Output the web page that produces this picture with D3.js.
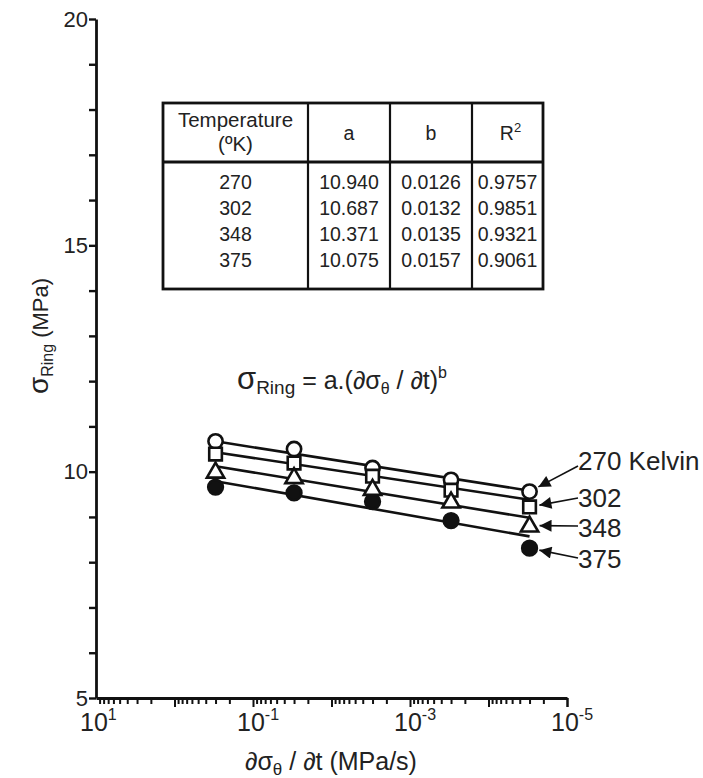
<!DOCTYPE html>
<html lang="en">
<head>
	<meta charset="utf-8">
	<title>Ring stress vs stress rate</title>
	<script src="https://d3js.org/d3.v7.min.js"></script>
	<style>
		body { margin: 0; background: #fff; }
		svg text { font-family: "Liberation Sans", Arial, sans-serif; fill: #222; }
	</style>
</head>
<body>
	<div id="container"></div>

	<script>
		// stress rates (MPa/s) where the tests were done
		var rates = [0.3, 0.03, 0.003, 0.0003, 0.00003];
		var temps = ["270", "302", "348", "375"];

		// ring stress (MPa), one array per temperature
		var s270 = [10.67, 10.50, 10.08, 9.82, 9.56];
		var s302 = [10.39, 10.19, 9.90, 9.59, 9.22];
		var s348 = [10.00, 9.88, 9.62, 9.34, 8.81];
		var s375 = [9.66, 9.53, 9.34, 8.92, 8.31];

		// fitted lines, value at first and last rate
		var fitStart = [10.67, 10.43, 10.12, 9.79];
		var fitEnd = [9.58, 9.38, 8.98, 8.57];

		// table of fit parameters
		var tabA = ["10.940", "10.687", "10.371", "10.075"];
		var tabB = ["0.0126", "0.0132", "0.0135", "0.0157"];
		var tabR2 = ["0.9757", "0.9851", "0.9321", "0.9061"];

		var yTicks = [5, 10, 15, 20];
		var xLabelExp = [1, -1, -3, -5];

		var width = 703,
			height = 778,
			svg = d3.select("#container")
				.append("svg")
				.attr("width", width)
				.attr("height", height);

		var x = d3.scaleLog()
			.domain([10, 1e-5])
			.range([96, 567]);

		var y = d3.scaleLinear()
			.domain([5, 20])
			.range([698, 19]);

		// y axis, a tick every unit, labels every 5
		var yAxis = svg.append("g")
			.attr("transform", "translate(" + x(10) + ",0)")
			.call(d3.axisLeft(y)
				.tickValues(d3.range(5, 21))
				.tickSize(7)
				.tickSizeOuter(0)
				.tickFormat(function(d) { return yTicks.indexOf(d) >= 0 ? d : ""; }));
		yAxis.select(".domain").attr("stroke", "#111").attr("stroke-width", 2.8);
		yAxis.selectAll(".tick line").attr("stroke", "#111").attr("stroke-width", 2.4);
		yAxis.selectAll(".tick text")
			.attr("font-size", 22)
			.attr("x", -8)
			.attr("fill", "#222");

		// x axis (log, reversed), minor ticks at 2..9 of every decade
		var xTickVals = [];
		for (var e = 1; e > -5; e--) {
			for (var m = 1; m < 10; m++) {
				xTickVals.push(m * Math.pow(10, e - 1));
			}
		}
		xTickVals.push(1e-5);
		xTickVals = xTickVals.filter(function(v) { return v <= 10 && v >= 1e-5; });

		var xAxis = svg.append("g")
			.attr("transform", "translate(0," + y(5) + ")")
			.call(d3.axisBottom(x)
				.tickValues(xTickVals)
				.tickSizeOuter(0)
				.tickFormat(""));
		xAxis.select(".domain").attr("stroke", "#111").attr("stroke-width", 2.8);
		xAxis.selectAll(".tick line")
			.attr("stroke", "#111")
			.attr("stroke-width", 2)
			.attr("y2", function(d) {
				var l = Math.log10(d);
				return Math.abs(l - Math.round(l)) < 1e-6 ? 9 : 6;
			});

		// decade labels 10^n
		var xl = svg.append("g").attr("font-size", 25);
		xLabelExp.forEach(function(p) {
			var t = xl.append("text")
				.attr("x", x(Math.pow(10, p)) - 16)
				.attr("y", 731);
			t.append("tspan").text("10");
			t.append("tspan")
				.attr("dy", -11)
				.attr("font-size", 16)
				.text(p < 0 ? "-" + (-p) : p);
		});

		// axis titles
		var xt = svg.append("text")
			.attr("x", 331)
			.attr("y", 770)
			.attr("text-anchor", "middle")
			.attr("font-size", 25);
		xt.append("tspan").text("\u2202\u03c3");
		xt.append("tspan").attr("font-size", 17).attr("dy", 5).text("\u03b8");
		xt.append("tspan").attr("dy", -5).text(" / \u2202t (MPa/s)");

		var yt = svg.append("text")
			.attr("transform", "translate(48,336) rotate(-90)")
			.attr("text-anchor", "middle")
			.attr("font-size", 22);
		yt.append("tspan").attr("font-size", 28).text("\u03c3");
		yt.append("tspan").attr("font-size", 16).attr("dy", 5).text("Ring");
		yt.append("tspan").attr("dy", -5).text(" (MPa)");

		// fitted lines
		var series = [s270, s302, s348, s375];
		var lines = svg.append("g");
		temps.forEach(function(t, i) {
			lines.append("line")
				.attr("x1", x(rates[0]))
				.attr("y1", y(fitStart[i]))
				.attr("x2", x(rates[rates.length - 1]))
				.attr("y2", y(fitEnd[i]))
				.attr("stroke", "#111")
				.attr("stroke-width", 2.6);
		});

		// markers: open circle, open square, open triangle, filled circle
		var shapes = [d3.symbolCircle, d3.symbolSquare, d3.symbolTriangle, d3.symbolCircle];
		var sizes = [160, 160, 130, 170];
		var fills = ["#fff", "#fff", "#fff", "#111"];
		var drawOrder = [0, 1, 3, 2];
		var pts = svg.append("g");
		drawOrder.forEach(function(i) {
			pts.selectAll(".p" + i)
				.data(series[i])
				.enter()
				.append("path")
				.attr("class", "p" + i)
				.attr("d", d3.symbol().type(shapes[i]).size(sizes[i]))
				.attr("transform", function(d, j) {
					return "translate(" + x(rates[j]) + "," + (y(d) + (i === 2 ? 1 : 0)) + ")";
				})
				.attr("fill", fills[i])
				.attr("stroke", "#111")
				.attr("stroke-width", 2.6);
		});

		// arrows pointing at the last point of each series
		svg.append("defs").append("marker")
			.attr("id", "head")
			.attr("viewBox", "0 0 10 10")
			.attr("refX", 10)
			.attr("refY", 5)
			.attr("markerWidth", 15)
			.attr("markerHeight", 12)
			.attr("markerUnits", "userSpaceOnUse")
			.attr("orient", "auto")
			.append("path")
			.attr("d", "M0,0L10,5L0,10Z")
			.attr("fill", "#111");

		var labelText = ["270 Kelvin", "302", "348", "375"];
		var labelY = [470, 507, 537, 568];
		var arrowFromY = [466, 498, 526, 558];
		var ann = svg.append("g");
		temps.forEach(function(t, i) {
			var px = x(rates[rates.length - 1]),
				py = y(series[i][rates.length - 1]);
			var ang = Math.atan2(arrowFromY[i] - py, 578 - px);
			ann.append("line")
				.attr("x1", 578)
				.attr("y1", arrowFromY[i])
				.attr("x2", px + 10 * Math.cos(ang))
				.attr("y2", py + 10 * Math.sin(ang))
				.attr("stroke", "#111")
				.attr("stroke-width", 1.6)
				.attr("marker-end", "url(#head)");
			ann.append("text")
				.attr("x", 578)
				.attr("y", labelY[i])
				.attr("font-size", 26)
				.text(labelText[i]);
		});

		// power law expression
		var eq = svg.append("text")
			.attr("x", 237)
			.attr("y", 389)
			.attr("font-size", 25);
		eq.append("tspan").attr("font-size", 31).text("\u03c3");
		eq.append("tspan").attr("font-size", 19).attr("dy", 5).text("Ring");
		eq.append("tspan").attr("dy", -5).text(" = a.(\u2202\u03c3");
		eq.append("tspan").attr("font-size", 16).attr("dy", 5).text("\u03b8");
		eq.append("tspan").attr("dy", -5).text(" / \u2202t)");
		eq.append("tspan").attr("font-size", 16).attr("dy", -11).text("b");

		// parameter table
		var colX = [163, 308, 390, 472, 543];
		var tabTop = 103, headBottom = 162, tabBottom = 289;
		var rowY = [189, 215, 241, 267];
		var tab = svg.append("g").attr("stroke", "#111");
		tab.append("rect")
			.attr("x", colX[0]).attr("y", tabTop)
			.attr("width", colX[4] - colX[0]).attr("height", tabBottom - tabTop)
			.attr("fill", "#fff").attr("stroke-width", 2.8);
		tab.append("line")
			.attr("x1", colX[0]).attr("x2", colX[4])
			.attr("y1", headBottom).attr("y2", headBottom)
			.attr("stroke-width", 2.8);
		colX.slice(1, 4).forEach(function(cx) {
			tab.append("line")
				.attr("x1", cx).attr("x2", cx)
				.attr("y1", tabTop).attr("y2", tabBottom)
				.attr("stroke-width", 2.2);
		});

		var tt = svg.append("g")
			.attr("font-size", 19.5)
			.attr("text-anchor", "middle");
		var mid = function(c) { return (colX[c] + colX[c + 1]) / 2; };
		tt.append("text").attr("x", mid(0)).attr("y", 127).attr("font-size", 20.5).text("Temperature");
		tt.append("text").attr("x", mid(0)).attr("y", 151).attr("font-size", 20.5).text("(\u00baK)");
		tt.append("text").attr("x", mid(1)).attr("y", 140).text("a");
		tt.append("text").attr("x", mid(2)).attr("y", 140).text("b");
		var r2 = tt.append("text").attr("x", mid(3) + 3).attr("y", 140);
		r2.append("tspan").text("R");
		r2.append("tspan").attr("font-size", 13).attr("dy", -8).text("2");

		[temps, tabA, tabB, tabR2].forEach(function(col, c) {
			col.forEach(function(v, r) {
				tt.append("text")
					.attr("x", mid(c))
					.attr("y", rowY[r])
					.text(v);
			});
		});
	</script>
</body>
</html>
